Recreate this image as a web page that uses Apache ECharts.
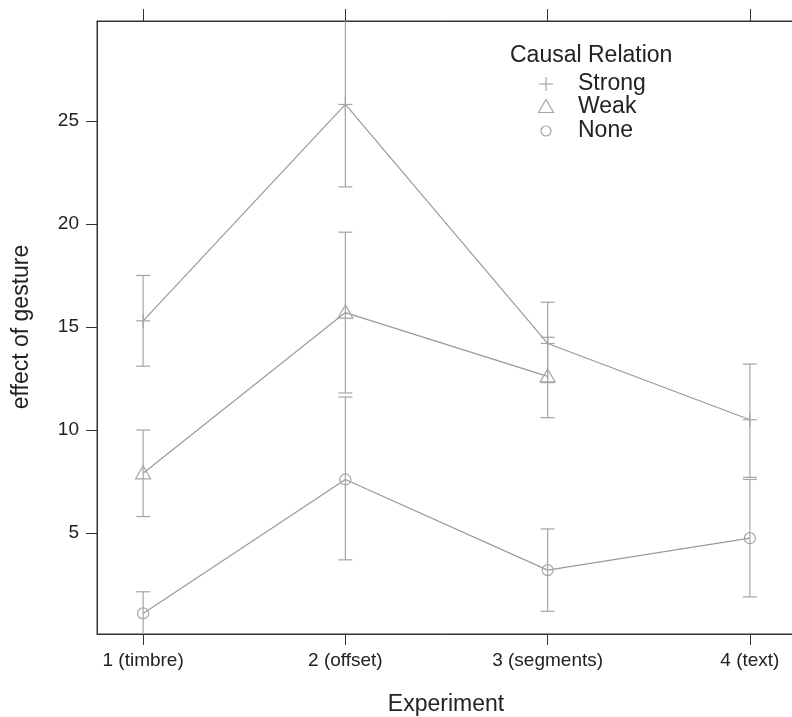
<!DOCTYPE html>
<html>
<head>
<meta charset="utf-8">
<script src="https://cdn.jsdelivr.net/npm/echarts@6/dist/echarts.min.js"></script>
<style>html,body{margin:0;padding:0;background:#fff}#c{width:792px;height:717px}</style>
</head>
<body>
<div id="c"></div>
<script>
const experiments = ['1 (timbre)', '2 (offset)', '3 (segments)', '4 (text)'];
const xPositions = [1, 2, 3, 4];
const yTicks = [5, 10, 15, 20, 25];
const legendTitle = 'Causal Relation';
const seriesNames = ['Strong', 'Weak', 'None'];

const strongMean = [15.3, 25.8, 14.2, 10.5];
const strongLow  = [13.1, 21.8, 12.3, 7.7];
const strongHigh = [17.5, 29.9, 16.2, 13.2];

const weakMean = [7.9, 15.7, 12.6, null];
const weakLow  = [5.8, 11.8, 10.6, null];
const weakHigh = [10.0, 19.6, 14.5, null];

const noneMean = [1.1, 7.6, 3.2, 4.75];
const noneLow  = [0.05, 3.7, 1.2, 1.9];
const noneHigh = [2.15, 11.6, 5.2, 7.6];

const X_MIN = 0.772, X_MAX = 4.228, Y_MIN = 0.1, Y_MAX = 29.85;
const FONT = 'Liberation Sans, Arial, sans-serif';
const LINE_COLOR = '#9a9a9a';
const BAR_COLOR = '#a5a5a5';
const AXIS_COLOR = '#333';
const TEXT_COLOR = '#222';

function build(mean, low, high) {
  const out = [];
  for (let i = 0; i < xPositions.length; i++) {
    if (mean[i] == null) continue;
    out.push([xPositions[i], mean[i], low[i], high[i]]);
  }
  return out;
}
function lineData(mean) {
  return xPositions.map((x, i) => [x, mean[i] == null ? null : mean[i]]);
}

function makeRender(shape) {
  return function (params, api) {
    const cs = params.coordSys;
    const top = cs.y, bottom = cs.y + cs.height;
    const x = api.value(0);
    const c = api.coord([x, api.value(1)]);
    const lo = api.coord([x, api.value(2)]);
    const hi = api.coord([x, api.value(3)]);
    const st = { stroke: BAR_COLOR, lineWidth: 1.2, fill: null };
    const children = [];
    const yHi = Math.max(hi[1], top), yLo = Math.min(lo[1], bottom);
    children.push({ type: 'line', shape: { x1: c[0], y1: yHi, x2: c[0], y2: yLo }, style: st });
    const cw = 7;
    if (hi[1] >= top) children.push({ type: 'line', shape: { x1: c[0] - cw, y1: hi[1], x2: c[0] + cw, y2: hi[1] }, style: st });
    if (lo[1] <= bottom) children.push({ type: 'line', shape: { x1: c[0] - cw, y1: lo[1], x2: c[0] + cw, y2: lo[1] }, style: st });
    const ms = { stroke: BAR_COLOR, lineWidth: 1.2, fill: null };
    if (shape === 'plus') {
      children.push({ type: 'line', shape: { x1: c[0] - 7, y1: c[1], x2: c[0] + 7, y2: c[1] }, style: ms });
      children.push({ type: 'line', shape: { x1: c[0], y1: c[1] - 7, x2: c[0], y2: c[1] + 7 }, style: ms });
    } else if (shape === 'triangle') {
      children.push({ type: 'polygon', shape: { points: [[c[0], c[1] - 7.5], [c[0] - 7.5, c[1] + 5.5], [c[0] + 7.5, c[1] + 5.5]] }, style: ms });
    } else {
      children.push({ type: 'circle', shape: { cx: c[0], cy: c[1], r: 5.5 }, style: ms });
    }
    return { type: 'group', children: children };
  };
}

const chart = echarts.init(document.getElementById('c'), null, { renderer: 'canvas' });

const lineSeries = [strongMean, weakMean, noneMean].map((m, i) => ({
  type: 'line', name: seriesNames[i] + ' line', data: lineData(m), symbol: 'none',
  connectNulls: false, lineStyle: { color: LINE_COLOR, width: 1.2 }, silent: true, z: 2
}));
const shapes = ['plus', 'triangle', 'circle'];
const barSeries = [[strongMean, strongLow, strongHigh], [weakMean, weakLow, weakHigh], [noneMean, noneLow, noneHigh]].map((a, i) => ({
  type: 'custom', name: seriesNames[i], data: build(a[0], a[1], a[2]),
  renderItem: makeRender(shapes[i]), encode: { x: 0, y: [1, 2, 3] }, silent: true, z: 3
}));

const TITLE_FONT = '23px ' + FONT;
const legendGraphics = [
  { type: 'text', x: 510, y: 56, style: { text: legendTitle, font: TITLE_FONT, fill: TEXT_COLOR, textAlign: 'left', textVerticalAlign: 'middle' } }
];
const legendY = [84, 107, 131];
seriesNames.forEach((n, i) => {
  legendGraphics.push({ type: 'text', x: 578, y: legendY[i], style: { text: n, font: TITLE_FONT, fill: TEXT_COLOR, textAlign: 'left', textVerticalAlign: 'middle' } });
});
const lx = 546;
legendGraphics.push({ type: 'line', shape: { x1: lx - 7, y1: legendY[0], x2: lx + 7, y2: legendY[0] }, style: { stroke: BAR_COLOR, lineWidth: 1.2 } });
legendGraphics.push({ type: 'line', shape: { x1: lx, y1: legendY[0] - 7, x2: lx, y2: legendY[0] + 7 }, style: { stroke: BAR_COLOR, lineWidth: 1.2 } });
legendGraphics.push({ type: 'polygon', shape: { points: [[lx, legendY[1] - 7.5], [lx - 7.5, legendY[1] + 5.5], [lx + 7.5, legendY[1] + 5.5]] }, style: { stroke: BAR_COLOR, lineWidth: 1.2, fill: null } });
legendGraphics.push({ type: 'circle', shape: { cx: lx, cy: legendY[2], r: 5 }, style: { stroke: BAR_COLOR, lineWidth: 1.2, fill: null } });

chart.setOption({
  animation: false,
  backgroundColor: '#fff',
  grid: { left: 97, top: 21, width: 699, height: 613, show: true, borderColor: AXIS_COLOR, borderWidth: 1,
    backgroundColor: 'transparent', containLabel: false, outerBoundsMode: 'none' },
  xAxis: [
    {
      type: 'value', position: 'bottom', min: X_MIN, max: X_MAX,
      axisLine: { show: true, lineStyle: { color: AXIS_COLOR, width: 1 } },
      axisTick: { show: true, customValues: xPositions, length: 11, lineStyle: { color: AXIS_COLOR, width: 1 } },
      axisLabel: { show: true, customValues: xPositions, margin: 17, color: TEXT_COLOR, fontSize: 19, fontFamily: FONT,
        formatter: v => experiments[Math.round(v) - 1] },
      splitLine: { show: false }
    },
    {
      type: 'value', position: 'top', min: X_MIN, max: X_MAX,
      axisLine: { show: true, lineStyle: { color: AXIS_COLOR, width: 1 } },
      axisTick: { show: true, customValues: xPositions, length: 12, lineStyle: { color: AXIS_COLOR, width: 1 } },
      axisLabel: { show: false },
      splitLine: { show: false }
    }
  ],
  yAxis: {
    type: 'value', min: Y_MIN, max: Y_MAX,
    axisLine: { show: true, lineStyle: { color: AXIS_COLOR, width: 1 } },
    axisTick: { show: true, customValues: yTicks, length: 11, lineStyle: { color: AXIS_COLOR, width: 1 } },
    axisLabel: { show: true, customValues: yTicks, margin: 18, color: TEXT_COLOR, fontSize: 19, fontFamily: FONT },
    splitLine: { show: false }
  },
  graphic: legendGraphics.concat([
    { type: 'text', x: 446, y: 705, style: { text: 'Experiment', font: TITLE_FONT, fill: TEXT_COLOR, textAlign: 'center', textVerticalAlign: 'middle' } },
    { type: 'text', x: 22, y: 327, rotation: Math.PI / 2, style: { text: 'effect of gesture', font: TITLE_FONT, fill: TEXT_COLOR, textAlign: 'center', textVerticalAlign: 'middle' } }
  ]),
  series: lineSeries.concat(barSeries)
});
</script>
</body>
</html>
